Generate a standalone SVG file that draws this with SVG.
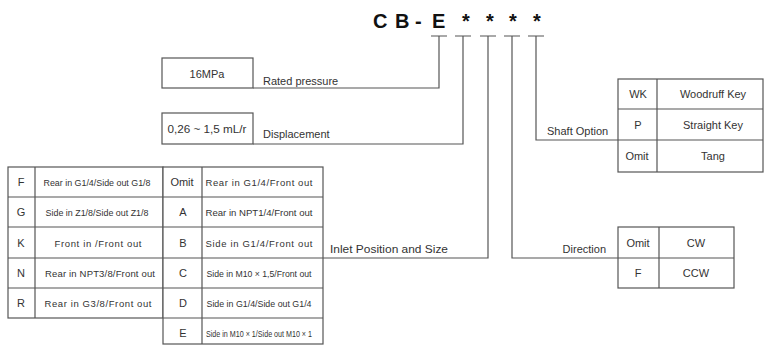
<svg xmlns="http://www.w3.org/2000/svg" width="766" height="345" viewBox="0 0 766 345">
<style>
  .ln{stroke:#555;stroke-width:1.2;fill:none}
  .bx{stroke:#555;stroke-width:1.2;fill:#fff}
  text{font-family:"Liberation Sans",Arial,sans-serif;fill:#333}
  .t11{font-size:11px}
  .t10{font-size:9.5px}
  .c{text-anchor:middle}
  .e{text-anchor:end}
  .ttl{font-size:20px;font-weight:bold;fill:#111}
</style>
<rect width="766" height="345" fill="#fff"/>

<g id="title">
  <text class="ttl" x="373 395 415 432" y="28">CB-E</text>
  <text class="ttl c" x="466" y="28">*</text>
  <text class="ttl c" x="490" y="28">*</text>
  <text class="ttl c" x="513" y="28">*</text>
  <text class="ttl c" x="537" y="28">*</text>
</g>

<g id="connectors">
  <path class="ln" d="M431 36H447M455 36H471M480 36H496M504 36H520M528 36H544"/>
  <path class="ln" d="M439 36V88H253"/>
  <path class="ln" d="M463 36V144H253"/>
  <path class="ln" d="M488 36V258H323"/>
  <path class="ln" d="M512 36V258H618"/>
  <path class="ln" d="M536 36V140H618"/>
</g>

<g id="rated-pressure">
  <rect class="bx" x="162" y="58" width="91" height="30"/>
  <text class="t11 c" x="207" y="78">16MPa</text>
  <text class="t11" x="263" y="85">Rated pressure</text>
</g>

<g id="displacement">
  <rect class="bx" x="162" y="113" width="91" height="31"/>
  <text class="t11 c" x="207" y="133" textLength="79" lengthAdjust="spacingAndGlyphs">0,26 ~ 1,5 mL/r</text>
  <text class="t11" x="263" y="138">Displacement</text>
</g>

<g id="inlet-table-left">
  <rect class="bx" x="8" y="167" width="155" height="151"/>
  <path class="ln" d="M35 167V318M8 197H163M8 227H163M8 258H163M8 288H163"/>
  <text class="t11 c" x="21" y="186">F</text>
  <text class="t11 c" x="21" y="216">G</text>
  <text class="t11 c" x="21" y="247">K</text>
  <text class="t11 c" x="21" y="277">N</text>
  <text class="t11 c" x="21" y="307">R</text>
  <text class="t10 c" x="97" y="186" textLength="107" lengthAdjust="spacingAndGlyphs">Rear in G1/4/Side out G1/8</text>
  <text class="t10 c" x="97" y="216" textLength="103" lengthAdjust="spacingAndGlyphs">Side in Z1/8/Side out Z1/8</text>
  <text class="t10 c" x="98" y="247" textLength="87" lengthAdjust="spacing">Front in /Front out</text>
  <text class="t10 c" x="100" y="277" textLength="110" lengthAdjust="spacing">Rear in NPT3/8/Front out</text>
  <text class="t10 c" x="98" y="307" textLength="107" lengthAdjust="spacing">Rear in G3/8/Front out</text>
</g>

<g id="inlet-table-right">
  <rect class="bx" x="163" y="167" width="160" height="177"/>
  <path class="ln" d="M202 167V344M163 197H323M163 227H323M163 258H323M163 288H323M163 318H323"/>
  <text class="t11 c" x="182" y="186">Omit</text>
  <text class="t11 c" x="183" y="216">A</text>
  <text class="t11 c" x="183" y="247">B</text>
  <text class="t11 c" x="183" y="277">C</text>
  <text class="t11 c" x="183" y="307">D</text>
  <text class="t11 c" x="183" y="337">E</text>
  <text class="t10 c" x="259" y="186" textLength="107" lengthAdjust="spacing">Rear in G1/4/Front out</text>
  <text class="t10 c" x="259" y="216" textLength="107" lengthAdjust="spacingAndGlyphs">Rear in NPT1/4/Front out</text>
  <text class="t10 c" x="259" y="247" textLength="107" lengthAdjust="spacing">Side in G1/4/Front out</text>
  <text class="t10 c" x="259" y="277" textLength="105" lengthAdjust="spacingAndGlyphs">Side in M10 × 1,5/Front out</text>
  <text class="t10 c" x="259" y="307" textLength="105" lengthAdjust="spacingAndGlyphs">Side in G1/4/Side out G1/4</text>
  <text class="t10 c" x="259" y="337" textLength="106" lengthAdjust="spacingAndGlyphs">Side in M10 × 1/Side out M10 × 1</text>
</g>

<g id="inlet-label">
  <text class="t11" x="330" y="253" textLength="118" lengthAdjust="spacingAndGlyphs">Inlet Position and Size</text>
</g>

<g id="shaft-option">
  <text class="t11" x="547" y="135">Shaft Option</text>
  <rect class="bx" x="618" y="79" width="145" height="93"/>
  <path class="ln" d="M657 79V172M618 109H763M618 140H763"/>
  <text class="t11 c" x="638" y="98">WK</text>
  <text class="t11 c" x="638" y="129">P</text>
  <text class="t11 c" x="637" y="160">Omit</text>
  <text class="t11 c" x="713" y="98">Woodruff Key</text>
  <text class="t11 c" x="713" y="129">Straight Key</text>
  <text class="t11 c" x="713" y="160">Tang</text>
</g>

<g id="direction">
  <text class="t11 e" x="606" y="253">Direction</text>
  <rect class="bx" x="618" y="227" width="116" height="61"/>
  <path class="ln" d="M659 227V288M618 258H734"/>
  <text class="t11 c" x="638" y="247">Omit</text>
  <text class="t11 c" x="638" y="277">F</text>
  <text class="t11 c" x="696" y="247">CW</text>
  <text class="t11 c" x="696" y="277">CCW</text>
</g>
</svg>
